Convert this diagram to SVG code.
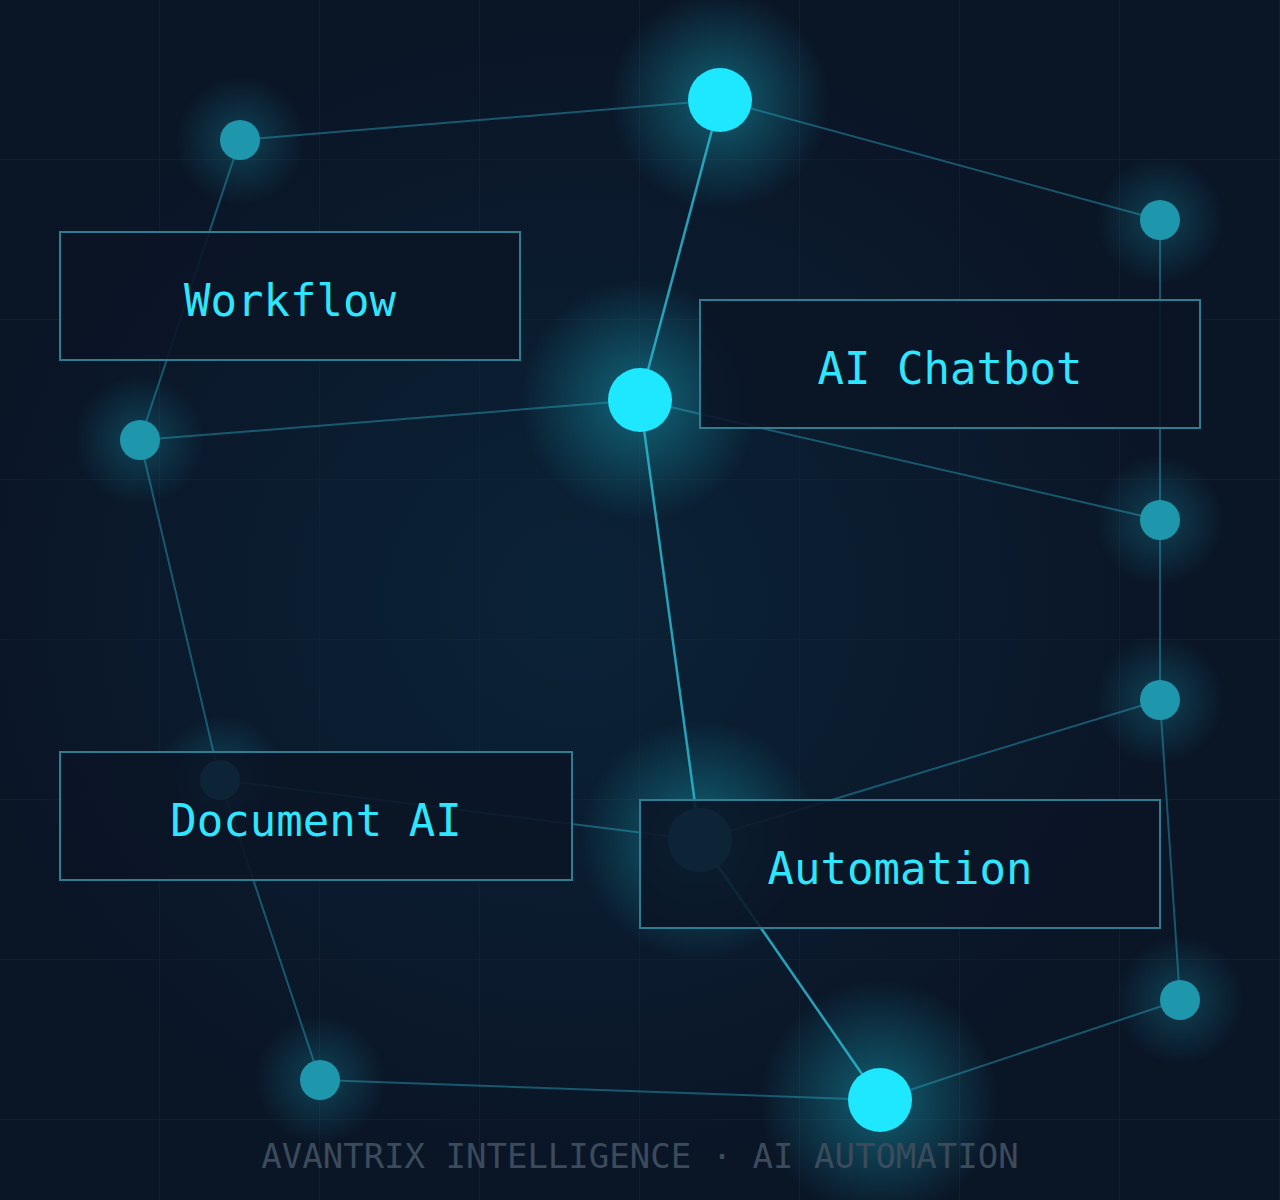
<svg xmlns="http://www.w3.org/2000/svg" width="1280" height="1200" viewBox="0 0 1280 1200">
<defs>
<radialGradient id="glow"><stop offset="0" stop-color="#1ee8ff" stop-opacity="0.35"/><stop offset="1" stop-color="#1ee8ff" stop-opacity="0"/></radialGradient>
<radialGradient id="bg" cx="0.45" cy="0.5" r="0.5"><stop offset="0" stop-color="#0b2236"/><stop offset="1" stop-color="#0a1526"/></radialGradient>
<pattern id="grid" width="160" height="160" patternUnits="userSpaceOnUse"><path d="M160 0V160M0 160H160" fill="none" stroke="#13263a" stroke-width="1"/></pattern>
</defs>
<style>
.e{stroke:#2aa7c0;stroke-width:2;stroke-opacity:0.45;fill:none}
.eb{stroke:#2ab8d0;stroke-width:2.5;stroke-opacity:0.85;fill:none}
.box{fill:#0a1526;fill-opacity:0.88;stroke:#2f7d93;stroke-width:2}
.lbl{font-family:"DejaVu Sans Mono",monospace;font-size:44px;fill:#2ee6ff;text-anchor:middle}
.sm{fill:#1e97ad}
.big{fill:#1ee8ff}
</style>
<rect width="1280" height="1200" fill="#0a1526"/>
<rect width="1280" height="1200" fill="url(#bg)"/>
<rect width="1280" height="1200" fill="url(#grid)"/>
<g id="glows">
<circle cx="720" cy="100" r="110" fill="url(#glow)"/>
<circle cx="640" cy="400" r="120" fill="url(#glow)"/>
<circle cx="700" cy="840" r="120" fill="url(#glow)"/>
<circle cx="880" cy="1100" r="120" fill="url(#glow)"/>
<circle cx="240" cy="140" r="65" fill="url(#glow)" opacity="0.6"/>
<circle cx="140" cy="440" r="65" fill="url(#glow)" opacity="0.6"/>
<circle cx="1160" cy="220" r="65" fill="url(#glow)" opacity="0.6"/>
<circle cx="1160" cy="520" r="65" fill="url(#glow)" opacity="0.6"/>
<circle cx="1160" cy="700" r="65" fill="url(#glow)" opacity="0.6"/>
<circle cx="1180" cy="1000" r="65" fill="url(#glow)" opacity="0.6"/>
<circle cx="320" cy="1080" r="65" fill="url(#glow)" opacity="0.6"/>
<circle cx="220" cy="780" r="65" fill="url(#glow)" opacity="0.6"/>
</g>
<g id="connectors">
<line class="e" x1="240" y1="140" x2="720" y2="100"/>
<line class="e" x1="720" y1="100" x2="1160" y2="220"/>
<line class="eb" x1="720" y1="100" x2="640" y2="400"/>
<line class="e" x1="240" y1="140" x2="140" y2="440"/>
<line class="e" x1="140" y1="440" x2="640" y2="400"/>
<line class="e" x1="640" y1="400" x2="1160" y2="520"/>
<line class="e" x1="1160" y1="220" x2="1160" y2="700"/>
<line class="e" x1="1160" y1="700" x2="1180" y2="1000"/>
<line class="e" x1="1160" y1="700" x2="700" y2="840"/>
<line class="eb" x1="640" y1="400" x2="700" y2="840"/>
<line class="e" x1="140" y1="440" x2="220" y2="780"/>
<line class="e" x1="220" y1="780" x2="700" y2="840"/>
<line class="e" x1="220" y1="780" x2="320" y2="1080"/>
<line class="eb" x1="700" y1="840" x2="880" y2="1100"/>
<line class="e" x1="320" y1="1080" x2="880" y2="1100"/>
<line class="e" x1="880" y1="1100" x2="1180" y2="1000"/>
</g>
<g id="nodes">
<circle class="sm" cx="240" cy="140" r="20"/>
<circle class="big" cx="720" cy="100" r="32"/>
<circle class="sm" cx="1160" cy="220" r="20"/>
<circle class="big" cx="640" cy="400" r="32"/>
<circle class="sm" cx="140" cy="440" r="20"/>
<circle class="sm" cx="1160" cy="520" r="20"/>
<circle class="sm" cx="1160" cy="700" r="20"/>
<circle class="sm" cx="220" cy="780" r="20"/>
<circle class="sm" cx="700" cy="840" r="32"/>
<circle class="sm" cx="1180" cy="1000" r="20"/>
<circle class="sm" cx="320" cy="1080" r="20"/>
<circle class="big" cx="880" cy="1100" r="32"/>
</g>
<g id="workflow"><rect class="box" x="60" y="232" width="460" height="128"/><text class="lbl" x="290" y="316">Workflow</text></g>
<g id="chatbot"><rect class="box" x="700" y="300" width="500" height="128"/><text class="lbl" x="950" y="384">AI Chatbot</text></g>
<g id="document"><rect class="box" x="60" y="752" width="512" height="128"/><text class="lbl" x="316" y="836">Document AI</text></g>
<g id="automation"><rect class="box" x="640" y="800" width="520" height="128"/><text class="lbl" x="900" y="884">Automation</text></g>
<text x="640" y="1168" font-family="DejaVu Sans Mono, monospace" font-size="34" fill="#3b4b5c" text-anchor="middle">AVANTRIX INTELLIGENCE · AI AUTOMATION</text>
</svg>
